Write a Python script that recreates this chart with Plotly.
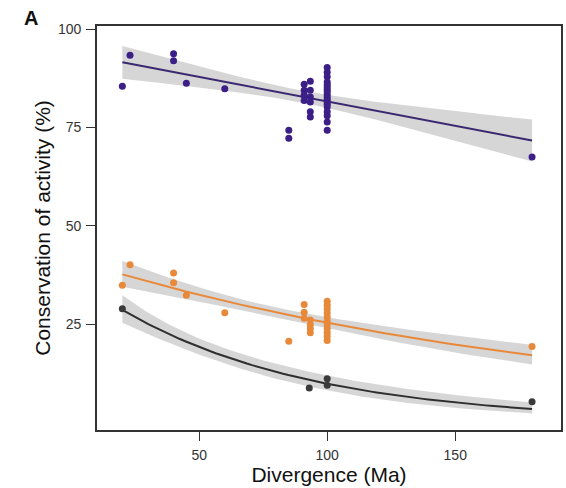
import numpy as np
import plotly.graph_objects as go

# ---------------- data ----------------
purple_x = [20, 23, 40, 40, 45, 60, 85, 85,
            91, 91, 91, 91,
            93.4, 93.4, 93.4, 93.4, 93.4, 93.4,
            100, 100, 100, 100, 100, 100, 100, 100, 100, 100, 100, 100,
            100, 100, 100, 100, 100, 100,
            180]
purple_y = [85.5, 93.4, 93.8, 92.0, 86.3, 84.9, 74.3, 72.3,
            86.0, 84.5, 83.2, 81.9,
            86.8, 84.5, 82.8, 81.5, 79.0, 77.7,
            90.3, 89.1, 87.9, 86.6, 85.3, 84.1, 82.8, 81.5, 80.2, 79.0, 76.4, 74.3,
            85.9, 84.7, 83.4, 82.2, 80.9, 78.0,
            67.5]

orange_x = [20, 23, 40, 40, 45, 60, 85,
            91, 91, 91,
            93.4, 93.4, 93.4, 93.4,
            100, 100, 100, 100, 100, 100, 100, 100, 100, 100, 100,
            180]
orange_y = [34.9, 40.1, 38.0, 35.5, 32.3, 27.9, 20.6,
            30.0, 28.0, 26.5,
            26.0, 24.8, 23.8, 22.8,
            30.8, 29.8, 28.8, 27.8, 26.8, 25.8, 24.8, 23.8, 22.8, 21.8, 20.8,
            19.3]

black_x = [20, 93, 100, 100, 180]
black_y = [28.9, 8.7, 11.1, 9.4, 5.2]

x_ticks = [50, 100, 150]
y_ticks = [25, 50, 75, 100]


# ---------------- smoothers (fitted from the data) ----------------
def fit_linear(x, y, n_grid=80, tq=2.03):
    x = np.asarray(x, float); y = np.asarray(y, float)
    n = len(x)
    b, a = np.polyfit(x, y, 1)
    r = y - (a + b * x)
    s = np.sqrt(np.sum(r ** 2) / (n - 2))
    xbar = x.mean(); sxx = np.sum((x - xbar) ** 2)
    g = np.linspace(x.min(), x.max(), n_grid)
    fit = a + b * g
    se = s * np.sqrt(1.0 / n + (g - xbar) ** 2 / sxx)
    return g, fit, fit - tq * se, fit + tq * se


def fit_exp(x, y, n_grid=80, z=1.96):
    x = np.asarray(x, float); y = np.asarray(y, float)
    n = len(x)
    b, c = np.polyfit(x, np.log(y), 1)
    for _ in range(200):
        yh = np.exp(c + b * x)
        J = np.column_stack([yh, x * yh])
        r = y - yh
        d = np.linalg.lstsq(J, r, rcond=None)[0]
        c += d[0]; b += d[1]
        if np.max(np.abs(d)) < 1e-12:
            break
    yh = np.exp(c + b * x)
    J = np.column_stack([yh, x * yh])
    r = y - yh
    s2 = np.sum(r ** 2) / (n - 2)
    cov = s2 * np.linalg.inv(J.T @ J)
    g = np.linspace(x.min(), x.max(), n_grid)
    eta = c + b * g
    se = np.sqrt(cov[0, 0] + 2 * g * cov[0, 1] + g ** 2 * cov[1, 1])
    return g, np.exp(eta), np.exp(eta - z * se), np.exp(eta + z * se)


series = [
    (purple_x, purple_y, fit_linear, "#3b1f87", "#3a2870"),
    (orange_x, orange_y, fit_exp, "#e8893a", "#e8893a"),
    (black_x, black_y, fit_exp, "#3a3a3a", "#2f2f2f"),
]

fig = go.Figure()
band_col = "rgba(153,153,153,0.4)"

for xs, ys, fitter, pcol, lcol in series:
    g, fit, lo, hi = fitter(xs, ys)
    fig.add_trace(go.Scatter(
        x=np.concatenate([g, g[::-1]]), y=np.concatenate([hi, lo[::-1]]),
        fill="toself", fillcolor=band_col, line=dict(width=0),
        mode="lines", hoverinfo="skip", showlegend=False))
    fig.add_trace(go.Scatter(x=g, y=fit, mode="lines",
                             line=dict(color=lcol, width=2), showlegend=False))
    fig.add_trace(go.Scatter(x=xs, y=ys, mode="markers",
                             marker=dict(color=pcol, size=7, line=dict(width=0)),
                             showlegend=False))

FONT = "Liberation Sans, Arial, sans-serif"
axis_common = dict(
    showline=True, linecolor="#333333", linewidth=1.6, mirror=True,
    showgrid=False, zeroline=False,
    ticks="outside", ticklen=9, tickwidth=1.4, tickcolor="#333333",
    tickfont=dict(family=FONT, size=14, color="#333333"),
)

fig.update_xaxes(
    range=[10.1, 191.3], tickvals=x_ticks, ticktext=[str(v) for v in x_ticks],
    title=dict(text="Divergence (Ma)", standoff=2,
               font=dict(family=FONT, size=21, color="#111111")),
    ticklabelstandoff=2,
    **axis_common)
fig.update_yaxes(
    range=[-1.96, 100.84], tickvals=y_ticks, ticktext=[str(v) for v in y_ticks],
    title=dict(text="Conservation of activity (%)", standoff=2,
               font=dict(family=FONT, size=21, color="#111111")),
    ticklabelstandoff=2,
    **axis_common)

fig.add_annotation(text="<b>A</b>", xref="paper", yref="paper",
                   x=-0.143, y=1.02, xanchor="center", yanchor="middle",
                   showarrow=False,
                   font=dict(family=FONT, size=20, color="#111111"))

fig.update_layout(
    width=566, height=488,
    margin=dict(l=97, r=5, t=26, b=58, autoexpand=False),
    plot_bgcolor="white", paper_bgcolor="white",
    showlegend=False,
)

fig.write_html("out.html",
               config={"displayModeBar": False},
               post_script="document.body.style.margin='0';document.body.style.overflow='hidden';")
